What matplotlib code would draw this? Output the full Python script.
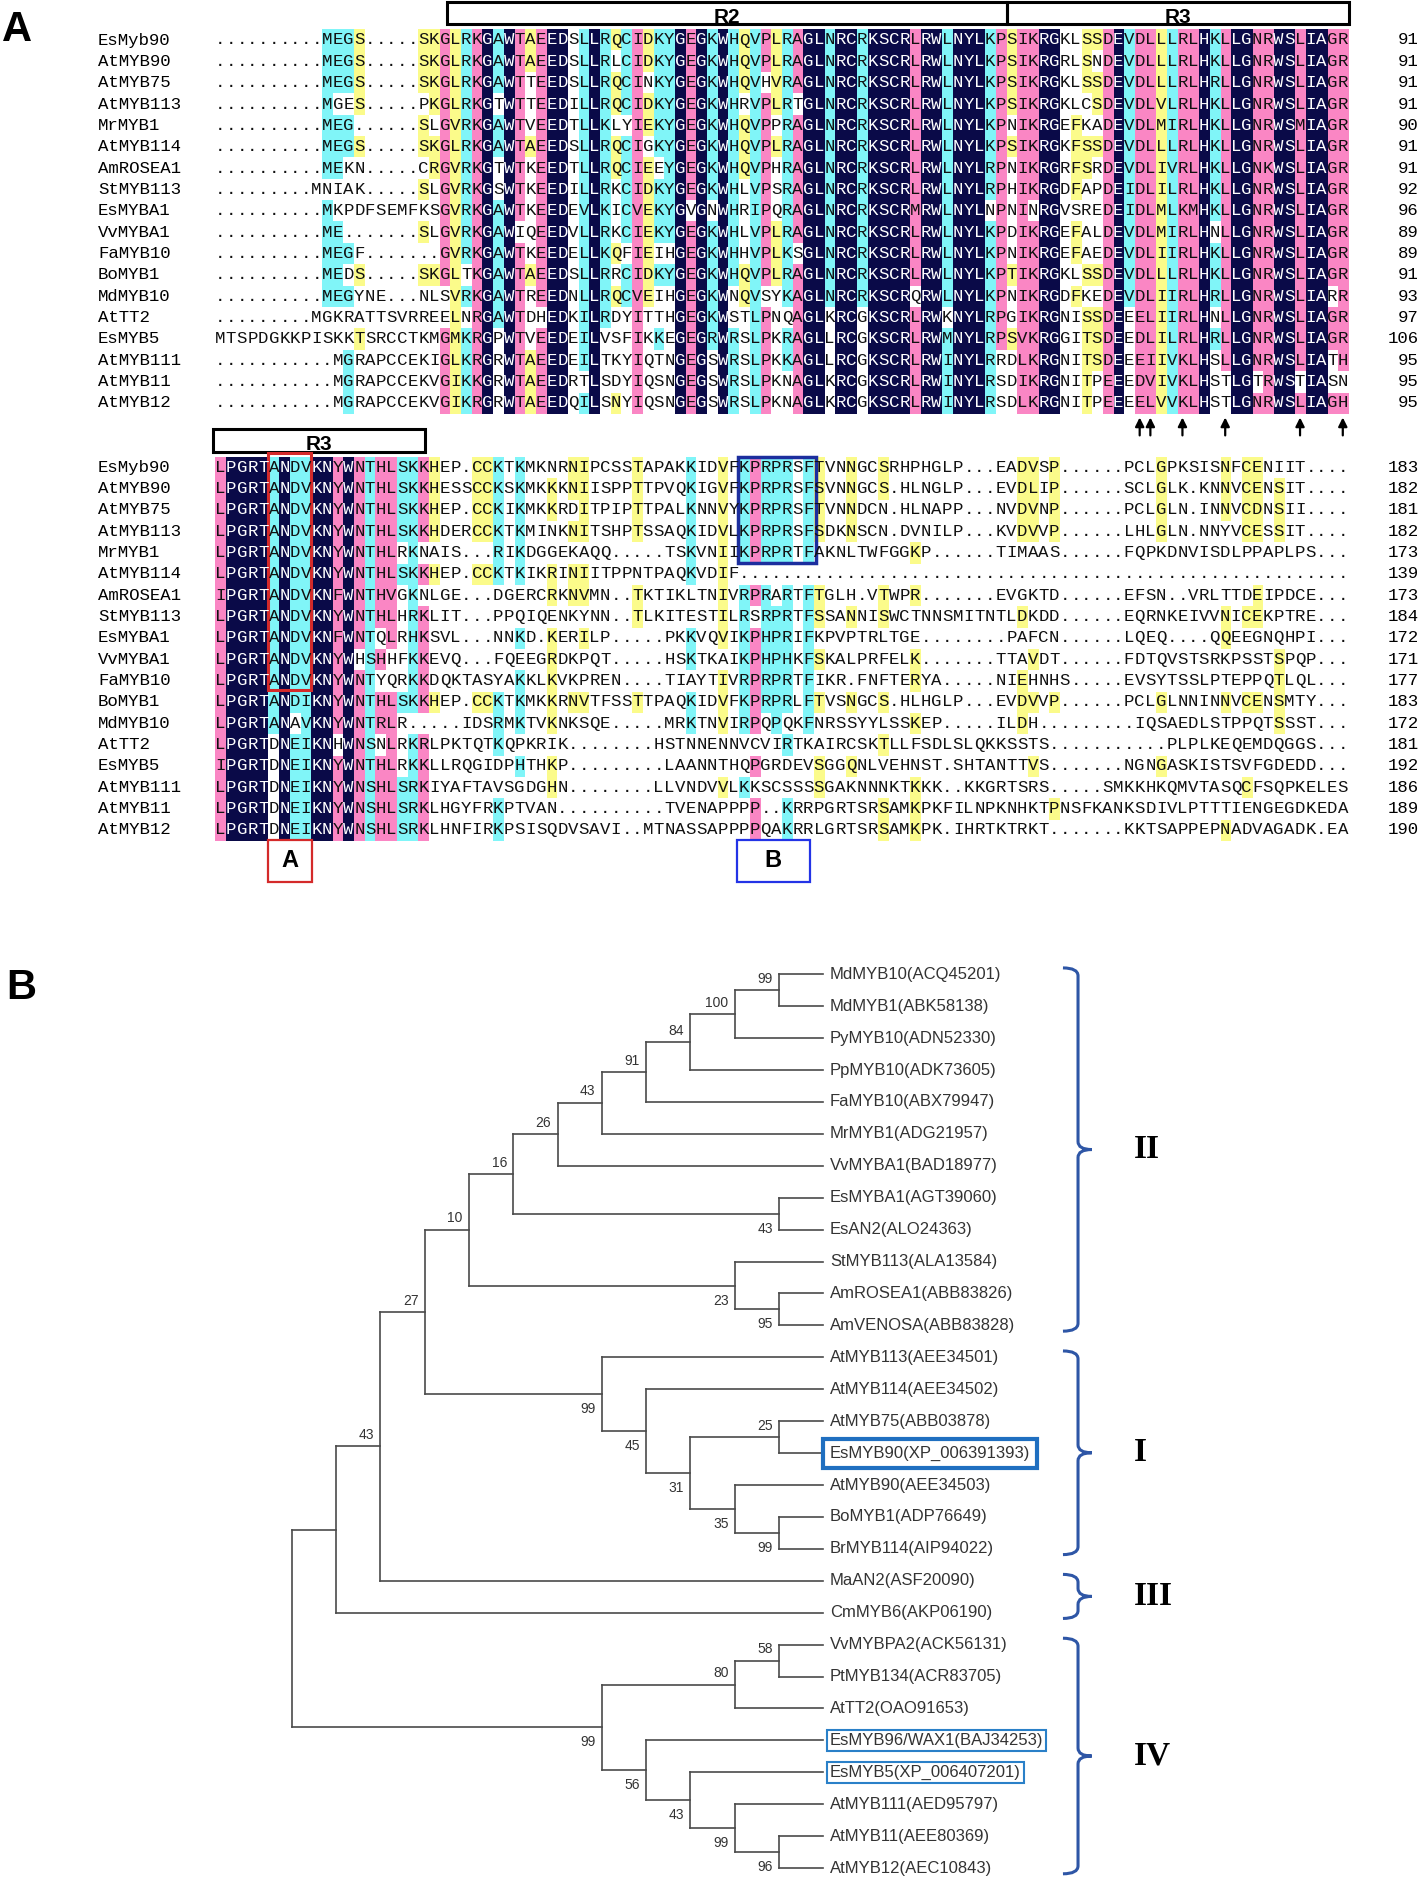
import matplotlib
matplotlib.use("Agg")
import matplotlib.pyplot as plt
import numpy as np
from collections import Counter
from matplotlib.colors import ListedColormap
from matplotlib.patches import Rectangle, PathPatch
from matplotlib.path import Path

# ---------------- data: panel A alignment ----------------
names = ["EsMyb90", "AtMYB90", "AtMYB75", "AtMYB113", "MrMYB1", "AtMYB114",
         "AmROSEA1", "StMYB113", "EsMYBA1", "VvMYBA1", "FaMYB10", "BoMYB1",
         "MdMYB10", "AtTT2", "EsMYB5", "AtMYB111", "AtMYB11", "AtMYB12"]

block1 = [
    "..........MEGS....." + "SKGLRKGAWTAEEDSLLRQCIDKYGEGKWHQVPLRAGLNRCRKSCRLRWLNYLKPSIKRGKLSSDEVDLLLRLHKLLGNRWSLIAGR",
    "..........MEGS....." + "SKGLRKGAWTAEEDSLLRLCIDKYGEGKWHQVPLRAGLNRCRKSCRLRWLNYLKPSIKRGRLSNDEVDLLLRLHKLLGNRWSLIAGR",
    "..........MEGS....." + "SKGLRKGAWTTEEDSLLRQCINKYGEGKWHQVHVRAGLNRCRKSCRLRWLNYLKPSIKRGKLSSDEVDLLLRLHRLLGNRWSLIAGR",
    "..........MGES....." + "PKGLRKGTWTTEEDILLRQCIDKYGEGKWHRVPLRTGLNRCRKSCRLRWLNYLKPSIKRGKLCSDEVDLVLRLHKLLGNRWSLIAGR",
    "..........MEG......" + "SLGVRKGAWTVEEDTLLKLYIEKYGEGKWHQVPPRAGLNRCRKSCRLRWLNYLKPNIKRGEFKADEVDLMIRLHKLLGNRWSMIAGR",
    "..........MEGS....." + "SKGLRKGAWTAEEDSLLRQCIGKYGEGKWHQVPLRAGLNRCRKSCRLRWLNYLKPSIKRGKFSSDEVDLLLRLHKLLGNRWSLIAGR",
    "..........MEKN....." + "CRGVRKGTWTKEEDTLLRQCIEEYGEGKWHQVPHRAGLNRCRKSCRLRWLNYLRPNIKRGRFSRDEVDLIVRLHKLLGNKWSLIAGR",
    ".........MNIAK....." + "SLGVRKGSWTKEEDILLRKCIDKYGEGKWHLVPSRAGLNRCRKSCRLRWLNYLRPHIKRGDFAPDEIDLILRLHKLLGNRWSLIAGR",
    "..........MKPDFSEMF" + "KSGVRKGAWTKEEDEVLKICVEKYGVGNWHRIPQRAGLNRCRKSCRMRWLNYLNPNINRGVSREDEIDLMLKMHKLLGNRWSLIAGR",
    "..........ME......." + "SLGVRKGAWIQEEDVLLRKCIEKYGEGKWHLVPLRAGLNRCRKSCRLRWLNYLKPDIKRGEFALDEVDLMIRLHNLLGNRWSLIAGR",
    "..........MEGF....." + "..GVRKGAWTKEEDELLKQFIEIHGEGKWHHVPLKSGLNRCRKSCRLRWLNYLKPNIKRGEFAEDEVDLIIRLHKLLGNRWSLIAGR",
    "..........MEDS....." + "SKGLTKGAWTAEEDSLLRRCIDKYGEGKWHQVPLRAGLNRCRKSCRLRWLNYLKPTIKRGKLSSDEVDLLLRLHKLLGNRWSLIAGR",
    "..........MEGYNE..." + "NLSVRKGAWTREEDNLLRQCVEIHGEGKWNQVSYKAGLNRCRKSCRQRWLNYLKPNIKRGDFKEDEVDLIIRLHRLLGNRWSLIARR",
    ".........MGKRATTSVR" + "REELNRGAWTDHEDKILRDYITTHGEGKWSTLPNQAGLKRCGKSCRLRWKNYLRPGIKRGNISSDEEELIIRLHNLLGNRWSLIAGR",
    "MTSPDGKKPISKKTSRCCT" + "KMGMKRGPWTVEEDEILVSFIKKEGEGRWRSLPKRAGLLRCGKSCRLRWMNYLRPSVKRGGITSDEEDLILRLHRLLGNRWSLIAGR",
    "...........MGRAPCCE" + "KIGLKRGRWTAEEDEILTKYIQTNGEGSWRSLPKKAGLLRCGKSCRLRWINYLRRDLKRGNITSDEEEIIVKLHSLLGNRWSLIATH",
    "...........MGRAPCCE" + "KVGIKKGRWTAEEDRTLSDYIQSNGEGSWRSLPKNAGLKRCGKSCRLRWINYLRSDIKRGNITPEEEDVIVKLHSTLGTRWSTIASN",
    "...........MGRAPCCE" + "KVGIKRGRWTAEEDQILSNYIQSNGEGSWRSLPKNAGLKRCGKSCRLRWINYLRSDLKRGNITPEEEELVVKLHSTLGNRWSLIAGH",
]
ends1 = [91, 91, 91, 91, 90, 91, 91, 92, 96, 89, 89, 91, 93, 97, 106, 95, 95, 95]

block2 = [
    "LPGRTANDVKNYWNTHLSKKHEP.CCKTKMKNRNIPCSSTAPAKKIDVFKPRPRSFTVNNGCSRHPHGLP...EADVSP......PCLGPKSISNFCENIIT....",
    "LPGRTANDVKNYWNTHLSKKHESSCCKSKMKKKNIISPPTTPVQKIGVFKPRPRSFSVNNGCS.HLNGLP...EVDLIP......SCLGLK.KNNVCENSIT....",
    "LPGRTANDVKNYWNTHLSKKHEP.CCKIKMKKRDITPIPTTPALKNNVYKPRPRSFTVNNDCN.HLNAPP...NVDVNP......PCLGLN.INNVCDNSII....",
    "LPGRTANDVKNYWNTHLSKKHDERCCKTKMINKNITSHPTSSAQKIDVLKPRPRSFSDKNSCN.DVNILP...KVDVVP......LHLGLN.NNYVCESSIT....",
    "LPGRTANDVKNYWNTHLRKNAIS...RIKDGGEKAQQ.....TSKVNIIKPRPRTFAKNLTWFGGKP......TIMAAS......FQPKDNVISDLPPAPLPS...",
    "LPGRTANDVKNYWNTHLSKKHEP.CCKTKIKRINIITPPNTPAQKVDIF" + "." * 57,
    "IPGRTANDVKNFWNTHVGKNLGE...DGERCRKNVMN..TKTIKLTNIVRPRARTFTGLH.VTWPR.......EVGKTD......EFSN..VRLTTDEIPDCE...",
    "LPGRTANDVKNYWNTHLHRKLIT...PPQIQENKYNN..TLKITESTILRSRPRTFSSANNISWCTNNSMITNTLDKDD......EQRNKEIVVNICEKPTRE...",
    "LPGRTANDVKNFWNTQLRHKSVL...NNKD.KERILP.....PKKVQVIKPHPRIFKPVPTRLTGE........PAFCN......LQEQ....QQEEGNQHPI...",
    "LPGRTANDVKNYWHSHHFKKEVQ...FQEEGRDKPQT.....HSKTKAIKPHPHKFSKALPRFELK.......TTAVDT......FDTQVSTSRKPSSTSPQP...",
    "LPGRTANDVKNYWNTYQRKKDQKTASYAKKLKVKPREN....TIAYTIVRPRPRTFIKR.FNFTERYA.....NIEHNHS.....EVSYTSSLPTEPPQTLQL...",
    "LPGRTANDIKNYWNTHLSKKHEP.CCKTKMKKRNVTFSSTTPAQKIDVFKPRPRLFTVSNGCS.HLHGLP...EVDVVP......PCLGLNNINNVCENSMTY...",
    "LPGRTANAVKNYWNTRLR.....IDSRMKTVKNKSQE.....MRKTNVIRPQPQKFNRSSYYLSSKEP.....ILDH.........IQSAEDLSTPPQTSSST...",
    "LPGRTDNEIKNHWNSNLRKRLPKTQTKQPKRIK........HSTNNENNVCVIRTKAIRCSKTLLFSDLSLQKKSSTS...........PLPLKEQEMDQGGS...",
    "IPGRTDNEIKNYWNTHLRKKLLRQGIDPHTHKP.........LAANNTHQPGRDEVSGGQNLVEHNST.SHTANTTVS.......NGNGASKISTSVFGDEDD...",
    "LPGRTDNEIKNYWNSHLSRKIYAFTAVSGDGHN........LLVNDVVLKKSCSSSSGAKNNNKTKKK..KKGRTSRS.....SMKKHKQMVTASQCFSQPKELES",
    "LPGRTDNEIKNYWNSHLSRKLHGYFRKPTVAN..........TVENAPPPP..KRRPGRTSRSAMKPKFILNPKNHKTPNSFKANKSDIVLPTTTIENGEGDKEDA",
    "LPGRTDNEIKNYWNSHLSRKLHNFIRKPSISQDVSAVI..MTNASSAPPPPQAKRRLGRTSRSAMKPK.IHRTKTRKT.......KKTSAPPEPNADVAGADK.EA",
]
ends2 = [183, 182, 181, 182, 173, 139, 173, 184, 172, 171, 177, 183, 172, 181, 192, 186, 189, 190]

domains1 = [("R2", 21.7, 74.1), ("R3", 74.1, 106.1)]
domains2 = [("R3", -0.2, 19.6)]
arrow_cols = [86, 87, 90, 94, 101, 105]

# ---------------- data: panel B tree ----------------
TREE = (None,
        (None,
         (43,
          (27,
           (10,
            (16,
             (26,
              (43,
               (91,
                (84,
                 (100, (99, "MdMYB10(ACQ45201)", "MdMYB1(ABK58138)"), "PyMYB10(ADN52330)"),
                 "PpMYB10(ADK73605)"),
                "FaMYB10(ABX79947)"),
               "MrMYB1(ADG21957)"),
              "VvMYBA1(BAD18977)"),
             (43, "EsMYBA1(AGT39060)", "EsAN2(ALO24363)")),
            (23, "StMYB113(ALA13584)", (95, "AmROSEA1(ABB83826)", "AmVENOSA(ABB83828)"))),
           (99, "AtMYB113(AEE34501)",
            (45, "AtMYB114(AEE34502)",
             (31, (25, "AtMYB75(ABB03878)", "EsMYB90(XP_006391393)"),
              (35, "AtMYB90(AEE34503)", (99, "BoMYB1(ADP76649)", "BrMYB114(AIP94022)")))))),
          "MaAN2(ASF20090)"),
         "CmMYB6(AKP06190)"),
        (99,
         (80, (58, "VvMYBPA2(ACK56131)", "PtMYB134(ACR83705)"), "AtTT2(OAO91653)"),
         (56, "EsMYB96/WAX1(BAJ34253)",
          (43, "EsMYB5(XP_006407201)",
           (99, "AtMYB111(AED95797)", (96, "AtMYB11(AEE80369)", "AtMYB12(AEC10843)"))))))

clades = [("II", "MdMYB10(ACQ45201)", "AmVENOSA(ABB83828)"),
          ("I", "AtMYB113(AEE34501)", "BrMYB114(AIP94022)"),
          ("III", "MaAN2(ASF20090)", "CmMYB6(AKP06190)"),
          ("IV", "VvMYBPA2(ACK56131)", "AtMYB12(AEC10843)")]
boxed_thick = ["EsMYB90(XP_006391393)"]
boxed_thin = ["EsMYB96/WAX1(BAJ34253)", "EsMYB5(XP_006407201)"]

# ---------------- styling ----------------
MONO = "Liberation Mono"
SANS = "Liberation Sans"
SERIF = "Liberation Serif"
SHADES = ["#ffffff", "#fbfb8a", "#80f5f8", "#fa86c4", "#0a0a48"]
GROUPS = ["ILVM", "DE", "KRH", "ST", "FYW", "NQ"]

W, H = 1421, 1880
fig = plt.figure(figsize=(W / 100, H / 100), dpi=100)


def px_axes(top, bottom, x0, xs, y0, ys):
    ax = fig.add_axes([0, 1 - bottom / H, 1, (bottom - top) / H])
    lims = ((-x0 / xs, (W - x0) / xs), ((bottom - y0) / ys, (top - y0) / ys))
    ax.axis("off")
    return ax, lims


def similar(a, b):
    return a == b or any(a in g and b in g for g in GROUPS)


def shade(seqs):
    n, m = len(seqs), len(seqs[0])
    level = np.zeros((n, m), dtype=int)
    for c in range(m):
        col = [s[c] for s in seqs]
        res = [ch for ch in col if ch != "."]
        if not res:
            continue
        top, cnt = Counter(res).most_common(1)[0]
        if cnt == n:
            lv = 4
        elif cnt * 4 >= n * 3:
            lv = 3
        elif cnt * 2 >= n:
            lv = 2
        elif cnt * 3 >= n:
            lv = 1
        else:
            continue
        for r, ch in enumerate(col):
            if ch != "." and similar(ch, top):
                level[r, c] = lv
    return level


def draw_block(ax, lims, seqs, ends, domains):
    for s in seqs:
        assert len(s) == 106, (len(s), s)
    level = shade(seqs)
    n, m = level.shape
    ax.imshow(level, cmap=ListedColormap(SHADES), vmin=-0.5, vmax=4.5,
              extent=(0, m, n - 0.5, -0.5), interpolation="nearest",
              aspect="auto", zorder=0)
    for r, (name, s, e) in enumerate(zip(names, seqs, ends)):
        ax.text(-10.95, r, name, ha="left", va="center", family=MONO, fontsize=12.5)
        for c, ch in enumerate(s):
            ax.text(c + 0.5, r, ch, ha="center", va="center", family=MONO,
                    fontsize=12.5, color="white" if level[r, c] == 4 else "#111111")
        ax.text(112.6, r, str(e), ha="right", va="center", family=MONO, fontsize=12.5)
    for lab, a, b in domains:
        ax.add_patch(Rectangle((a, -1.8), b - a, 1.07, fc="none", ec="black", lw=2.2))
        ax.text((a + b) / 2, -1.07, lab, ha="center", va="center", family=SANS,
                fontsize=15, weight="bold")
    ax.set_xlim(*lims[0])
    ax.set_ylim(*lims[1])


# ---------------- panel A ----------------
ax1, l1 = px_axes(0, 445, 215, 10.69, 40, 21.35)
draw_block(ax1, l1, block1, ends1, domains1)
for c in arrow_cols:
    ax1.annotate("", xy=(c + 0.5, 17.55), xytext=(c + 0.5, 18.65),
                 arrowprops=dict(arrowstyle="-|>", color="black", lw=1.6, mutation_scale=13))

ax2, l2 = px_axes(415, 900, 215, 10.69, 467.3, 21.33)
draw_block(ax2, l2, block2, ends2, domains2)
ax2.add_patch(Rectangle((5, -0.68), 4, 11.12, fc="none", ec="#d42a2a", lw=2.2))
ax2.add_patch(Rectangle((48.9, -0.5), 7.3, 5.0, fc="none", ec="#1c2e9e", lw=2.5))
ax2.add_patch(Rectangle((5, 17.46), 4.1, 1.96, fc="none", ec="#d42a2a", lw=1.6))
ax2.text(7.05, 18.44, "A", ha="center", va="center", family=SANS, fontsize=17, weight="bold")
ax2.add_patch(Rectangle((48.8, 17.46), 6.85, 1.96, fc="none", ec="#2333e6", lw=1.6))
ax2.text(52.2, 18.44, "B", ha="center", va="center", family=SANS, fontsize=17, weight="bold")

# ---------------- panel B ----------------
ax3, l3 = px_axes(930, 1880, 291.7, 44.3, 974.3, 31.92)


def leaves_of(node, out):
    if isinstance(node, str):
        out.append(node)
    else:
        for ch in node[1:]:
            leaves_of(ch, out)
    return out


def height(node):
    return 0 if isinstance(node, str) else 1 + max(height(ch) for ch in node[1:])


leaves = leaves_of(TREE, [])
idx = {name: i for i, name in enumerate(leaves)}
TOP = height(TREE)
LINE = dict(color="#4a4a4a", lw=1.2, solid_capstyle="projecting")


def draw_node(node):
    if isinstance(node, str):
        return TOP, idx[node]
    x = TOP - height(node)
    pts = [draw_node(ch) for ch in node[1:]]
    ax3.plot([x, x], [pts[0][1], pts[-1][1]], **LINE)
    for k, (ch, (cx, cy)) in enumerate(zip(node[1:], pts)):
        ax3.plot([x, cx], [cy, cy], **LINE)
        if not isinstance(ch, str) and ch[0] is not None:
            dy = -0.36 if k == 0 else 0.47
            ax3.text(cx - 0.14, cy + dy, str(ch[0]), ha="right", va="center",
                     family=SANS, fontsize=10, color="#333333")
    return x, (pts[0][1] + pts[-1][1]) / 2


draw_node(TREE)

for i, name in enumerate(leaves):
    kw = {}
    if name in boxed_thick:
        kw["bbox"] = dict(boxstyle="square,pad=0.42", fc="none", ec="#1f6fc0", lw=3)
    elif name in boxed_thin:
        kw["bbox"] = dict(boxstyle="square,pad=0.18", fc="none", ec="#2a80c8", lw=1.5)
    ax3.text(TOP + 0.15, i, name, ha="left", va="center", family=SANS,
             fontsize=12, color="#333333", **kw)


def brace(y0, y1, x0=17.41, x1=17.75, x2=18.06, r=0.25):
    ym = (y0 + y1) / 2
    verts = [(x0, y0), (x1, y0), (x1, y0 + r), (x1, ym - r), (x1, ym), (x2, ym),
             (x2, ym), (x1, ym), (x1, ym + r), (x1, y1 - r), (x1, y1), (x0, y1)]
    M, C, L = Path.MOVETO, Path.CURVE3, Path.LINETO
    codes = [M, C, C, L, C, C, M, C, C, L, C, C]
    ax3.add_patch(PathPatch(Path(verts, codes), fc="none", ec="#2e56a6", lw=2.2))
    return ym


for lab, first, last in clades:
    ym = brace(idx[first] - 0.2, idx[last] + 0.18)
    ax3.text(19.0, ym, lab, ha="left", va="center", family=SERIF, fontsize=24,
             weight="bold")

ax3.set_xlim(*l3[0])
ax3.set_ylim(*l3[1])

# panel letters
fig.text(2 / W, 1 - 30 / H, "A", ha="left", va="center", family=SANS, fontsize=30, weight="bold")
fig.text(6 / W, 1 - 988 / H, "B", ha="left", va="center", family=SANS, fontsize=30, weight="bold")

fig.savefig("out.png", dpi=100, facecolor="white")
